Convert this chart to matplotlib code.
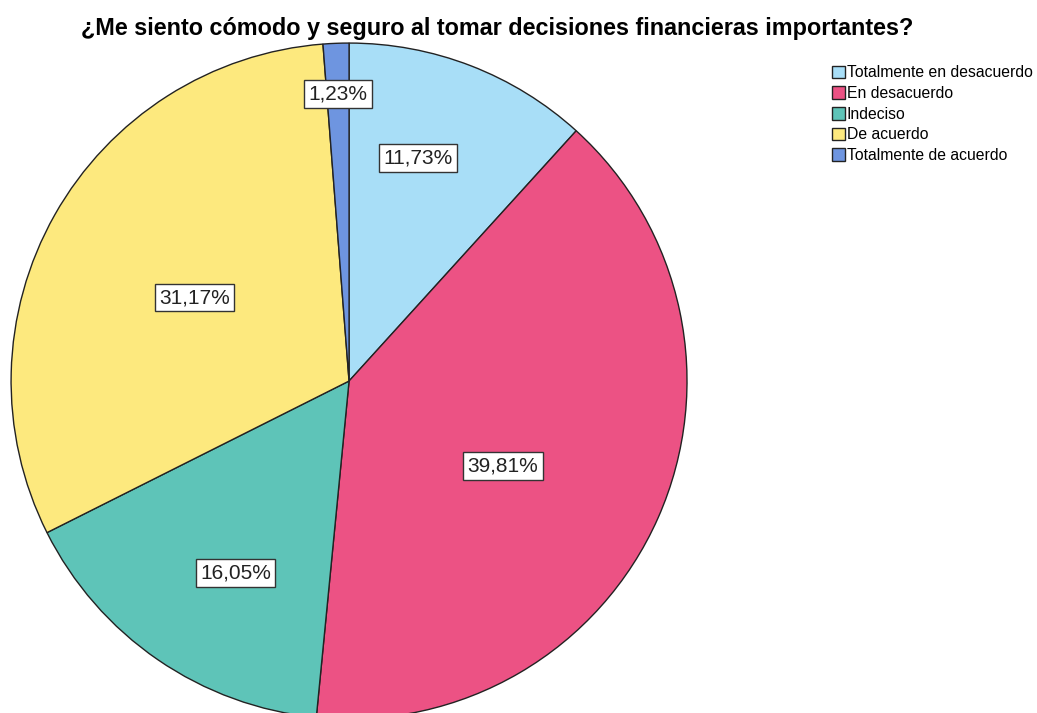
import matplotlib.pyplot as plt
import numpy as np

plt.rcParams['font.family'] = ['Liberation Sans', 'DejaVu Sans']

categorias = ['Totalmente en desacuerdo', 'En desacuerdo', 'Indeciso',
              'De acuerdo', 'Totalmente de acuerdo']
porcentajes = [11.73, 39.81, 16.05, 31.17, 1.23]
colores = ['#A8DEF7', '#EC5284', '#5EC4B8', '#FDE97E', '#6E95E0']
# posición de cada etiqueta (distancia radial y desvío angular) como en el original
dist_etiquetas = [0.69, 0.52, 0.66, 0.52, 0.85]
desvio_ang = [3.9, -5.0, 3.8, 1.1, 0.0]

fig = plt.figure(figsize=(10.37, 7.13), dpi=100)
ax = fig.add_axes([0.0106, -0.0084, 0.652, 0.948])

wedges, _ = ax.pie(porcentajes, colors=colores, startangle=90, counterclock=False,
                   radius=1, wedgeprops=dict(edgecolor='#222222', linewidth=1.0))

for w, p, d, da in zip(wedges, porcentajes, dist_etiquetas, desvio_ang):
    ang = np.deg2rad((w.theta1 + w.theta2) / 2 + da)
    ax.text(d * np.cos(ang), d * np.sin(ang), f'{p:.2f}%'.replace('.', ','),
            ha='center', va='center', fontsize=15, color='#222222',
            bbox=dict(facecolor='white', edgecolor='#333333', linewidth=1.0, pad=3.2))

ax.set_xlim(-1, 1)
ax.set_ylim(-1, 1)
ax.set_aspect('equal')

fig.text(0.479, 0.960, '¿Me siento cómodo y seguro al tomar decisiones financieras importantes?',
         ha='center', va='center', fontsize=16.8, fontweight='bold')

leg = fig.legend(wedges, categorias, loc='upper left', bbox_to_anchor=(0.796, 0.917),
                 frameon=False, fontsize=11.3, handlelength=0.85, handleheight=0.85,
                 handletextpad=0.12, labelspacing=0.36, borderaxespad=0)

fig.savefig('out.png', dpi=100)
